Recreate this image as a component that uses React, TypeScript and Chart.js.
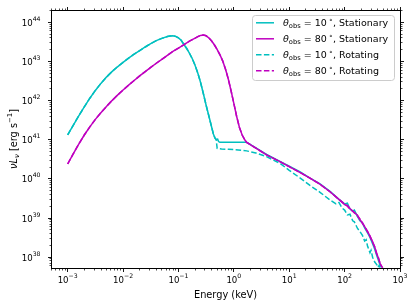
import React, { useEffect, useRef } from 'react';
import { Chart, registerables } from 'chart.js';

Chart.register(...registerables);

// ---------- data (keV, erg/s) ----------
const energyCyanStationary = [
  0.001, 0.001259, 0.001585, 0.001995, 0.002512, 0.003162, 0.003981, 0.005012, 0.00631, 0.007943, 0.01,
  0.01259, 0.01585, 0.01995, 0.02512, 0.03162, 0.03981, 0.05012, 0.0631,
  0.0708, 0.0794, 0.0891, 0.1,
  0.112, 0.126, 0.141, 0.158, 0.178, 0.2, 0.224, 0.251, 0.282, 0.316, 0.355, 0.398,
  0.427, 0.457, 0.49, 0.51, 0.53, 0.56,
  0.8, 1.2, 1.7,
  2.5, 3.9, 6.8, 10, 15.8, 23.7, 35.5, 54.5, 79,
  100, 112, 125, 140, 150, 170, 189, 210, 230, 260, 287, 320, 350, 380, 406, 437, 465,
];
const lumCyanStationary = [
  1.33e41, 2.34e41, 4.07e41, 6.9e41, 1.15e42, 1.82e42, 2.75e42, 3.98e42, 5.5e42, 7.3e42, 9.5e42,
  1.22e43, 1.53e43, 1.9e43, 2.34e43, 2.85e43, 3.39e43, 3.89e43, 4.32e43,
  4.47e43, 4.52e43, 4.37e43, 3.98e43,
  3.47e43, 2.69e43, 2.14e43, 1.62e43, 1.17e43, 7.9e42, 5.0e42, 2.9e42, 1.5e42, 7.6e41, 3.98e41, 2.09e41,
  1.41e41, 1.1e41, 1.0e41, 1.04e41, 9.0e40, 8.6e40,
  8.6e40, 8.6e40, 8.6e40,
  6.2e40, 4.2e40, 2.8e40, 2.1e40, 1.5e40, 1.05e40, 7.6e39, 4.8e39, 3.0e39,
  2.3e39, 2.4e39, 1.7e39, 1.5e39, 1.6e39, 1.1e39, 8.5e38, 7.5e38, 5.6e38, 4.2e38, 3.2e38, 2.2e38, 1.6e38, 1.1e38, 8.5e37, 6.3e37, 5.6e37,
];

const energyMagentaStationary = [
  0.001, 0.001259, 0.001585, 0.001995, 0.002512, 0.003162, 0.003981, 0.005012, 0.00631, 0.007943, 0.01,
  0.01259, 0.01585, 0.01995, 0.02512, 0.03162, 0.03981, 0.05012, 0.0631,
  0.0794, 0.1, 0.126, 0.158, 0.2, 0.224, 0.251, 0.282, 0.316, 0.355, 0.398, 0.447, 0.501, 0.562, 0.631, 0.708,
  0.794, 0.891, 1.0, 1.122, 1.259, 1.413, 1.585, 1.706,
  2.5, 3.9, 6.8, 10, 15.8, 23.7, 35.5, 54.5, 79,
  100, 112, 125, 150, 170, 189, 210, 230, 260, 287, 320, 350, 380, 406, 437, 470,
];
const lumMagentaStationary = [
  2.4e40, 4.37e40, 7.76e40, 1.32e41, 2.14e41, 3.31e41, 4.9e41, 7.08e41, 1.0e42, 1.38e42, 1.86e42,
  2.48e42, 3.27e42, 4.27e42, 5.5e42, 7.08e42, 9.0e42, 1.135e43, 1.43e43,
  1.8e43, 2.19e43, 2.69e43, 3.31e43, 3.94e43, 4.32e43, 4.62e43, 4.73e43, 4.52e43, 3.98e43, 3.31e43, 2.63e43, 2.0e43, 1.48e43, 1.02e43, 6.3e42,
  3.55e42, 1.78e42, 8.5e41, 3.98e41, 2.09e41, 1.32e41, 9.8e40, 8.6e40,
  6.1e40, 4.1e40, 2.75e40, 2.05e40, 1.45e40, 1.05e40, 7.4e39, 4.7e39, 3.0e39,
  2.2e39, 2.1e39, 1.75e39, 1.35e39, 1.2e39, 9.0e38, 7.6e38, 6.0e38, 4.6e38, 3.4e38, 2.5e38, 1.8e38, 1.25e38, 9.5e37, 7.0e37, 5.5e37,
];

const energyCyanRotating = [
  0.001, 0.001259, 0.001585, 0.001995, 0.002512, 0.003162, 0.003981, 0.005012, 0.00631, 0.007943, 0.01,
  0.01259, 0.01585, 0.01995, 0.02512, 0.03162, 0.03981, 0.05012, 0.0631,
  0.0708, 0.0794, 0.0891, 0.1,
  0.112, 0.126, 0.141, 0.158, 0.178, 0.2, 0.224, 0.251, 0.282, 0.316, 0.355, 0.398,
  0.427, 0.457, 0.48, 0.5, 0.6, 0.8, 1.2, 1.7,
  2.5, 3.9, 6.8, 10, 15.8, 23.7, 35.5, 54.5, 70, 79, 90,
  100, 112, 125, 140, 150, 170, 189, 210, 230, 245, 260, 287, 300, 320, 350, 380, 400, 420, 440,
];
const lumCyanRotating = [
  1.33e41, 2.34e41, 4.07e41, 6.9e41, 1.15e42, 1.82e42, 2.75e42, 3.98e42, 5.5e42, 7.3e42, 9.5e42,
  1.22e43, 1.53e43, 1.9e43, 2.34e43, 2.85e43, 3.39e43, 3.89e43, 4.32e43,
  4.47e43, 4.52e43, 4.37e43, 3.98e43,
  3.47e43, 2.69e43, 2.14e43, 1.62e43, 1.17e43, 7.9e42, 5.0e42, 2.9e42, 1.5e42, 7.6e41, 3.98e41, 2.09e41,
  1.41e41, 1.1e41, 1.0e41, 6.0e40, 5.8e40, 5.7e40, 5.5e40, 5.2e40,
  4.6e40, 3.7e40, 2.5e40, 1.65e40, 1.05e40, 6.8e39, 4.6e39, 2.9e39, 2.3e39, 2.5e39, 1.8e39,
  1.6e39, 1.2e39, 1.25e39, 8.5e38, 8.0e38, 5.5e38, 4.5e38, 3.6e38, 2.6e38, 2.8e38, 1.9e38, 1.3e38, 1.5e38, 1.0e38, 7.5e37, 6.5e37, 5.5e37, 6.2e37, 5.4e37,
];

const energyMagentaRotating = [
  0.001, 0.001259, 0.001585, 0.001995, 0.002512, 0.003162, 0.003981, 0.005012, 0.00631, 0.007943, 0.01,
  0.01259, 0.01585, 0.01995, 0.02512, 0.03162, 0.03981, 0.05012, 0.0631,
  0.0794, 0.1, 0.126, 0.158, 0.2, 0.224, 0.251, 0.282, 0.316, 0.355, 0.398, 0.447, 0.501, 0.562, 0.631, 0.708,
  0.794, 0.891, 1.0, 1.122, 1.259, 1.413, 1.585, 1.706,
  2.5, 3.9, 6.8, 10, 15.8, 23.7, 35.5, 54.5, 79,
  100, 112, 125, 150, 170, 189, 210, 230, 260, 287, 320, 350, 380, 406, 437, 470, 490,
];
const lumMagentaRotating = [
  2.4e40, 4.37e40, 7.76e40, 1.32e41, 2.14e41, 3.31e41, 4.9e41, 7.08e41, 1.0e42, 1.38e42, 1.86e42,
  2.48e42, 3.27e42, 4.27e42, 5.5e42, 7.08e42, 9.0e42, 1.135e43, 1.43e43,
  1.8e43, 2.19e43, 2.69e43, 3.31e43, 3.94e43, 4.32e43, 4.62e43, 4.73e43, 4.52e43, 3.98e43, 3.31e43, 2.63e43, 2.0e43, 1.48e43, 1.02e43, 6.3e42,
  3.55e42, 1.78e42, 8.5e41, 3.98e41, 2.09e41, 1.32e41, 9.8e40, 8.6e40,
  6.1e40, 4.1e40, 2.75e40, 2.05e40, 1.45e40, 1.05e40, 7.4e39, 4.7e39, 3.0e39,
  2.3e39, 2.0e39, 1.7e39, 1.4e39, 1.15e39, 9.5e38, 7.2e38, 6.2e38, 4.4e38, 3.5e38, 2.4e38, 1.85e38, 1.2e38, 1.0e38, 6.8e37, 5.8e37, 5.4e37,
];

const seriesLabels = [
  'θobs = 10°, Stationary',
  'θobs = 80°, Stationary',
  'θobs = 10°, Rotating',
  'θobs = 80°, Rotating',
];
const legendAngles = ['10', '80', '10', '80'];
const legendModes = ['Stationary', 'Stationary', 'Rotating', 'Rotating'];

const xTickExponents = [-3, -2, -1, 0, 1, 2, 3];
const yTickExponents = [38, 39, 40, 41, 42, 43, 44];
const xAxisTitle = 'Energy (keV)';

const X_MIN = 5e-4;
const X_MAX = 1e3;
const Y_MIN = 5.3e37;
const Y_MAX = 2.06e44;

const CYAN = '#00bfbf';
const MAGENTA = '#bf00bf';
const COLORS = [CYAN, MAGENTA, CYAN, MAGENTA];
const DASHED = [false, false, true, true];
const DASH = [5.5, 2.4];

const FONT = '"DejaVu Sans", sans-serif';

type Seg = { t: string; size: number; italic?: boolean; dy?: number };

function setFont(ctx: CanvasRenderingContext2D, s: Seg) {
  ctx.font = `${s.italic ? 'italic ' : ''}${s.size}px ${FONT}`;
}
function measureSegs(ctx: CanvasRenderingContext2D, segs: Seg[]) {
  let w = 0;
  for (const s of segs) {
    setFont(ctx, s);
    w += ctx.measureText(s.t).width;
  }
  return w;
}
function drawSegs(ctx: CanvasRenderingContext2D, segs: Seg[], x: number, y: number, align: 'left' | 'center' | 'right') {
  const w = measureSegs(ctx, segs);
  let cx = align === 'center' ? x - w / 2 : align === 'right' ? x - w : x;
  ctx.textAlign = 'left';
  ctx.textBaseline = 'alphabetic';
  for (const s of segs) {
    setFont(ctx, s);
    ctx.fillText(s.t, cx, y + (s.dy || 0));
    cx += ctx.measureText(s.t).width;
  }
}
function expText(n: number) {
  return n < 0 ? '\u2212' + Math.abs(n) : String(n);
}
function logTicks(min: number, max: number) {
  const out: { v: number; major: boolean }[] = [];
  const e0 = Math.floor(Math.log10(min));
  const e1 = Math.ceil(Math.log10(max));
  for (let e = e0; e <= e1; e++) {
    for (let m = 1; m <= 9; m++) {
      const v = m * Math.pow(10, e);
      if (v >= min * 0.9999 && v <= max * 1.0001) out.push({ v, major: m === 1 });
    }
  }
  return out;
}
const snap = (v: number) => Math.round(v - 0.5) + 0.5;

const framePlugin = {
  id: 'frameAndText',
  afterDatasetsDraw(chart: any) {
    const { ctx, chartArea: a, scales } = chart;
    const xs = scales.x;
    const ys = scales.y;
    const L = snap(a.left), R = snap(a.right), T = snap(a.top), B = snap(a.bottom);
    ctx.save();
    ctx.strokeStyle = '#000';
    ctx.fillStyle = '#000';
    ctx.setLineDash([]);
    ctx.lineWidth = 1;
    ctx.strokeRect(L, T, R - L, B - T);

    for (const t of logTicks(X_MIN, X_MAX)) {
      const px = snap(xs.getPixelForValue(t.v));
      const len = t.major ? 3.5 : 2;
      ctx.lineWidth = t.major ? 0.9 : 0.7;
      ctx.beginPath();
      ctx.moveTo(px, B);
      ctx.lineTo(px, B + len);
      ctx.moveTo(px, T);
      ctx.lineTo(px, T - len);
      ctx.stroke();
    }
    for (const t of logTicks(Y_MIN, Y_MAX)) {
      const py = snap(ys.getPixelForValue(t.v));
      const len = t.major ? 3.5 : 2;
      ctx.lineWidth = t.major ? 0.9 : 0.7;
      ctx.beginPath();
      ctx.moveTo(L, py);
      ctx.lineTo(L - len, py);
      ctx.moveTo(R, py);
      ctx.lineTo(R + len, py);
      ctx.stroke();
    }

    for (const e of xTickExponents) {
      const px = xs.getPixelForValue(Math.pow(10, e));
      drawSegs(ctx, [
        { t: '10', size: 8.6 },
        { t: expText(e), size: 6.2, dy: -4.4 },
      ], px, 282.8, 'center');
    }
    for (const e of yTickExponents) {
      const py = ys.getPixelForValue(Math.pow(10, e));
      drawSegs(ctx, [
        { t: '10', size: 8.6 },
        { t: expText(e), size: 6.2, dy: -5 },
      ], 40.5, py + 3.6, 'right');
    }

    drawSegs(ctx, [{ t: xAxisTitle, size: 9.8 }], (a.left + a.right) / 2, 297.5, 'center');
    ctx.save();
    ctx.translate(16.5, (a.top + a.bottom) / 2);
    ctx.rotate(-Math.PI / 2);
    drawSegs(ctx, [
      { t: 'ν', size: 9.8, italic: true },
      { t: 'L', size: 9.8, italic: true },
      { t: 'ν', size: 6.9, italic: true, dy: 2 },
      { t: ' [erg s', size: 9.8 },
      { t: '\u22121', size: 6.9, dy: -4.3 },
      { t: ']', size: 9.8 },
    ], 0, 0, 'center');
    ctx.restore();
    ctx.restore();
  },
  afterDraw(chart: any) {
    const { ctx } = chart;
    const bx = 252.5, by = 15.5, bw = 142, bh = 65, r = 3;
    ctx.save();
    ctx.beginPath();
    ctx.moveTo(bx + r, by);
    ctx.lineTo(bx + bw - r, by);
    ctx.arcTo(bx + bw, by, bx + bw, by + r, r);
    ctx.lineTo(bx + bw, by + bh - r);
    ctx.arcTo(bx + bw, by + bh, bx + bw - r, by + bh, r);
    ctx.lineTo(bx + r, by + bh);
    ctx.arcTo(bx, by + bh, bx, by + bh - r, r);
    ctx.lineTo(bx, by + r);
    ctx.arcTo(bx, by, bx + r, by, r);
    ctx.closePath();
    ctx.fillStyle = 'rgba(255,255,255,0.8)';
    ctx.fill();
    ctx.strokeStyle = '#cccccc';
    ctx.lineWidth = 1;
    ctx.stroke();

    for (let i = 0; i < 4; i++) {
      const cy = 22.8 + i * 16;
      ctx.strokeStyle = COLORS[i];
      ctx.lineWidth = 1.5;
      ctx.setLineDash(DASHED[i] ? DASH : []);
      ctx.beginPath();
      ctx.moveTo(256, cy);
      ctx.lineTo(274, cy);
      ctx.stroke();
      ctx.setLineDash([]);
      ctx.fillStyle = '#000';
      drawSegs(ctx, [
        { t: 'θ', size: 9.5, italic: true },
        { t: 'obs', size: 6.7, dy: 2 },
        { t: ' = ' + legendAngles[i], size: 9.5 },
        { t: ' \u2218', size: 6.7, dy: -3.9 },
        { t: ', ' + legendModes[i], size: 9.5 },
      ], 283, cy + 3.4, 'left');
    }
    ctx.restore();
  },
};

function pts(xs: number[], ys: number[]) {
  return xs.map((x, i) => ({ x, y: ys[i] }));
}

export default function App() {
  const ref = useRef<HTMLCanvasElement>(null);
  useEffect(() => {
    const energies = [energyCyanStationary, energyMagentaStationary, energyCyanRotating, energyMagentaRotating];
    const lums = [lumCyanStationary, lumMagentaStationary, lumCyanRotating, lumMagentaRotating];
    const datasets = energies.map((e, i) => ({
      label: seriesLabels[i],
      data: pts(e, lums[i]),
      borderColor: COLORS[i],
      backgroundColor: COLORS[i],
      borderWidth: 1.5,
      borderDash: DASHED[i] ? DASH : [],
      pointRadius: 0,
      tension: 0,
      fill: false,
      order: 4 - i,
    }));
    const hiddenAxis = {
      type: 'logarithmic' as const,
      display: true,
      grid: { display: false, drawTicks: false },
      border: { display: false },
      ticks: { display: false },
    };
    const chart = new Chart(ref.current as HTMLCanvasElement, {
      type: 'line',
      data: { datasets },
      options: {
        animation: false,
        responsive: false,
        devicePixelRatio: 1,
        layout: { padding: { left: 51, right: 15, top: 10, bottom: 39 } },
        plugins: { legend: { display: false }, tooltip: { enabled: false } },
        scales: {
          x: { ...hiddenAxis, min: X_MIN, max: X_MAX },
          y: { ...hiddenAxis, min: Y_MIN, max: Y_MAX },
        },
      } as any,
      plugins: [framePlugin],
    });
    return () => chart.destroy();
  }, []);
  return (
    <div style={{ position: 'fixed', left: 0, top: 0, width: 415, height: 307, background: '#fff' }}>
      <canvas ref={ref} width={415} height={307} style={{ display: 'block' }} />
    </div>
  );
}
